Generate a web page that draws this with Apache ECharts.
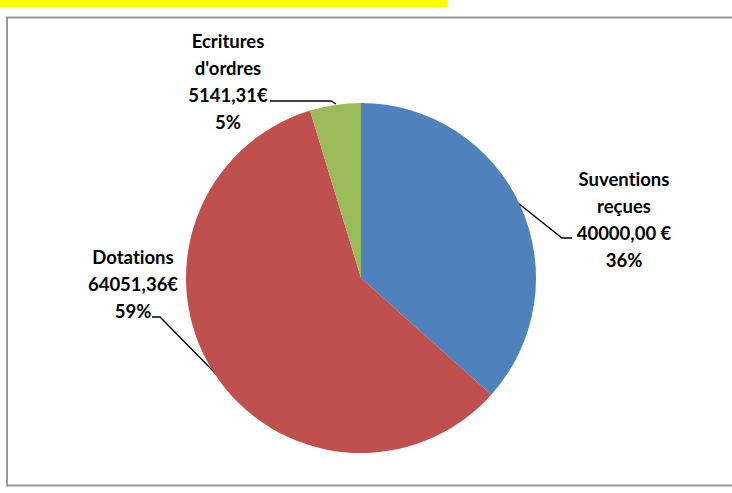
<!DOCTYPE html>
<html>
<head>
<meta charset="utf-8">
<script src="https://cdn.jsdelivr.net/npm/echarts@6/dist/echarts.min.js"></script>
<style>
html,body{margin:0;padding:0;background:#fff;}
#chart{width:732px;height:493px;}
#chart text{font-variant-ligatures:none;font-feature-settings:"liga" 0, "clig" 0;}
</style>
</head>
<body>
<div id="chart"></div>
<script>
const categories = ['Suventions reçues', 'Dotations', "Ecritures d'ordres"];
const nameLines = ['Suventions\nreçues', 'Dotations', "Ecritures\nd'ordres"];
const values = [40000.00, 64051.36, 5141.31];
const valueLabels = ['40000,00 €', '64051,36€', '5141,31€'];
const colors = ['#4F81BD', '#C0504D', '#9BBB59'];

const labelPos = [
  { x: 624, y: 219, line: [[518, 203], [562, 238], [572, 238]] },
  { x: 133, y: 284, line: [[218, 376], [160, 317], [152, 317]] },
  { x: 228, y: 81,  line: [[336, 104], [331, 101], [270, 101]] }
];

const chart = echarts.init(document.getElementById('chart'), null, { renderer: 'svg' });
chart.setOption({
  animation: false,
  backgroundColor: '#ffffff',
  graphic: [
    { type: 'rect', shape: { x: 0, y: 0, width: 447, height: 7 }, style: { fill: '#FFFF00' }, silent: true },
    { type: 'rect', shape: { x: 7, y: 17.5, width: 740, height: 468 }, style: { fill: 'none', stroke: '#9a9a9a', lineWidth: 2 }, silent: true }
  ],
  series: [{
    type: 'pie',
    center: [361, 278],
    radius: 175,
    startAngle: 90,
    clockwise: true,
    percentPrecision: 0,
    data: categories.map((c, i) => ({ name: c, value: values[i], itemStyle: { color: colors[i] } })),
    itemStyle: { borderWidth: 0 },
    emphasis: { disabled: true },
    label: {
      show: true,
      position: 'outside',
      color: '#000',
      fontFamily: 'Lato',
      fontWeight: 'bold',
      fontSize: 18.5,
      lineHeight: 27,
      align: 'center',
      formatter: p => nameLines[p.dataIndex] + '\n' + valueLabels[p.dataIndex] + '\n' + p.percent + '%'
    },
    labelLine: { show: true, lineStyle: { color: '#000', width: 1.3 } },
    labelLayout: p => {
      const lp = labelPos[p.dataIndex];
      return { x: lp.x, y: lp.y, align: 'center', verticalAlign: 'middle', labelLinePoints: lp.line };
    }
  }]
});
</script>
</body>
</html>
